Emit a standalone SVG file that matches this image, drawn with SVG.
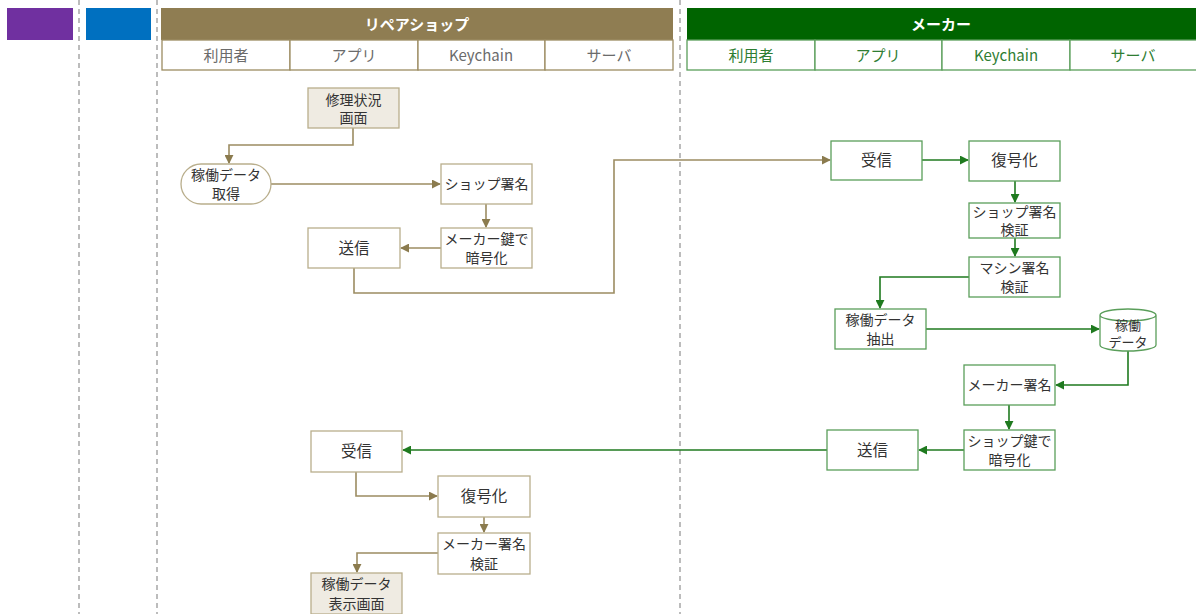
<svg xmlns="http://www.w3.org/2000/svg" width="1196" height="614" viewBox="0 0 1196 614">
<style>
text{font-family:"Noto Sans CJK JP","Noto Sans",sans-serif;}
.hd{font-size:15px;font-weight:bold;fill:#fff;text-anchor:middle;}
.sub{font-size:15px;text-anchor:middle;}
.subS{fill:#6b6b6b;}
.subM{fill:#2e7d32;}
.lbl{font-size:14px;fill:#333;text-anchor:middle;}
.big{font-size:15.5px;}
.nS{fill:#fff;stroke:#b9ae8c;stroke-width:1.3;}
.nSb{fill:#efebe2;stroke:#b9ae8c;stroke-width:1.3;}
.nM{fill:#fff;stroke:#5a9e5a;stroke-width:1.3;}
.cS{fill:none;stroke:#9c8c62;stroke-width:1.6;}
.cM{fill:none;stroke:#1f7a1f;stroke-width:1.6;}
.dash{stroke:#999;stroke-width:1.3;stroke-dasharray:5,4;}
</style>
<defs>
<marker id="aS" viewBox="0 0 10 10" refX="9" refY="5" markerWidth="9" markerHeight="9" markerUnits="userSpaceOnUse" orient="auto"><path d="M0,0 L10,5 L0,10 z" fill="#8b7b4e"/></marker>
<marker id="aM" viewBox="0 0 10 10" refX="9" refY="5" markerWidth="9" markerHeight="9" markerUnits="userSpaceOnUse" orient="auto"><path d="M0,0 L10,5 L0,10 z" fill="#1f7a1f"/></marker>
</defs>
<rect width="1196" height="614" fill="#fff"/>
<g id="lanes">
<line class="dash" x1="79" y1="0" x2="79" y2="614"/>
<line class="dash" x1="157" y1="0" x2="157" y2="614"/>
<line class="dash" x1="680" y1="0" x2="680" y2="614"/>
<rect x="7" y="8" width="66" height="32" fill="#7030a0"/>
<rect x="86" y="8" width="65" height="32" fill="#0070c0"/>
<rect x="161" y="8" width="512" height="32" fill="#8f7d52"/>
<text class="hd" x="417" y="30">リペアショップ</text>
<g fill="#fff" stroke="#9c8c62" stroke-width="1.3">
<rect x="162" y="40" width="128" height="30"/><rect x="290" y="40" width="128" height="30"/><rect x="418" y="40" width="127" height="30"/><rect x="545" y="40" width="128" height="30"/>
</g>
<text class="sub subS" x="226" y="61">利用者</text>
<text class="sub subS" x="354" y="61">アプリ</text>
<text class="sub subS" x="481" y="61">Keychain</text>
<text class="sub subS" x="609" y="61">サーバ</text>
<rect x="687" y="8" width="509" height="32" fill="#006400"/>
<text class="hd" x="941" y="30">メーカー</text>
<g fill="#fff" stroke="#5a9e5a" stroke-width="1.3">
<rect x="687" y="40" width="128" height="30"/><rect x="815" y="40" width="127" height="30"/><rect x="942" y="40" width="128" height="30"/><rect x="1070" y="40" width="128" height="30"/>
</g>
<text class="sub subM" x="751" y="61">利用者</text>
<text class="sub subM" x="878" y="61">アプリ</text>
<text class="sub subM" x="1006" y="61">Keychain</text>
<text class="sub subM" x="1133" y="61">サーバ</text>
</g>
<g id="connectors">
<path class="cS" d="M353,128 V145 H229 V163" marker-end="url(#aS)"/>
<path class="cS" d="M271,184 H440" marker-end="url(#aS)"/>
<path class="cS" d="M486,204 V227" marker-end="url(#aS)"/>
<path class="cS" d="M441,248 H401" marker-end="url(#aS)"/>
<path class="cS" d="M354,268 V293 H614 V160 H830" marker-end="url(#aS)"/>
<path class="cM" d="M922,160 H968" marker-end="url(#aM)"/>
<path class="cM" d="M1015,181 V202" marker-end="url(#aM)"/>
<path class="cM" d="M1015,238 V256" marker-end="url(#aM)"/>
<path class="cM" d="M969,277 H880 V308" marker-end="url(#aM)"/>
<path class="cM" d="M926,329 H1099" marker-end="url(#aM)"/>
<path class="cM" d="M1128,351 V385 H1056" marker-end="url(#aM)"/>
<path class="cM" d="M1009,405 V429" marker-end="url(#aM)"/>
<path class="cM" d="M964,450 H919" marker-end="url(#aM)"/>
<path class="cM" d="M827,450 H403" marker-end="url(#aM)"/>
<path class="cS" d="M356,472 V496 H437" marker-end="url(#aS)"/>
<path class="cS" d="M484,517 V532" marker-end="url(#aS)"/>
<path class="cS" d="M438,553 H357 V572" marker-end="url(#aS)"/>
</g>
<g id="n_repair_status"><rect class="nSb" x="308" y="88" width="91" height="40"/><text class="lbl" x="353.5" y="105">修理状況</text><text class="lbl" x="353.5" y="123">画面</text></g>
<g id="n_get_data"><rect class="nS" x="181" y="164" width="90" height="40" rx="20"/><text class="lbl" x="226" y="180">稼働データ</text><text class="lbl" x="226" y="199">取得</text></g>
<g id="n_shop_sign"><rect class="nS" x="441" y="164" width="91" height="40"/><text class="lbl" x="486.5" y="189">ショップ署名</text></g>
<g id="n_enc_maker"><rect class="nS" x="441" y="228" width="91" height="40"/><text class="lbl" x="486.5" y="244">メーカー鍵で</text><text class="lbl" x="486.5" y="263">暗号化</text></g>
<g id="n_send_shop"><rect class="nS" x="308" y="228" width="92" height="40"/><text class="lbl big" x="354" y="254">送信</text></g>
<g id="n_recv_maker"><rect class="nM" x="831" y="141" width="91" height="39"/><text class="lbl big" x="876.5" y="166">受信</text></g>
<g id="n_dec_maker"><rect class="nM" x="969" y="141" width="91" height="40"/><text class="lbl big" x="1014.5" y="166">復号化</text></g>
<g id="n_verify_shop"><rect class="nM" x="969" y="203" width="91" height="35"/><text class="lbl" x="1014.5" y="217">ショップ署名</text><text class="lbl" x="1014.5" y="235">検証</text></g>
<g id="n_verify_machine"><rect class="nM" x="969" y="257" width="91" height="40"/><text class="lbl" x="1014.5" y="273">マシン署名</text><text class="lbl" x="1014.5" y="292">検証</text></g>
<g id="n_extract"><rect class="nM" x="835" y="309" width="91" height="40"/><text class="lbl" x="880.5" y="325">稼働データ</text><text class="lbl" x="880.5" y="344">抽出</text></g>
<g id="n_store"><path class="nM" d="M1100,315 V345 A28,6 0 0 0 1156,345 V315 A28,6 0 0 0 1100,315 A28,6 0 0 0 1156,315"/><text class="lbl" style="font-size:13px" x="1128" y="330">稼働</text><text class="lbl" style="font-size:13px" x="1128" y="347">データ</text></g>
<g id="n_maker_sign"><rect class="nM" x="964" y="365" width="91" height="40"/><text class="lbl" x="1009.5" y="390">メーカー署名</text></g>
<g id="n_enc_shop"><rect class="nM" x="964" y="430" width="91" height="40"/><text class="lbl" x="1009.5" y="446">ショップ鍵で</text><text class="lbl" x="1009.5" y="465">暗号化</text></g>
<g id="n_send_maker"><rect class="nM" x="827" y="430" width="91" height="40"/><text class="lbl big" x="872.5" y="456">送信</text></g>
<g id="n_recv_shop"><rect class="nS" x="311" y="431" width="91" height="41"/><text class="lbl big" x="356.5" y="457">受信</text></g>
<g id="n_dec_shop"><rect class="nS" x="438" y="476" width="92" height="41"/><text class="lbl big" x="484" y="502">復号化</text></g>
<g id="n_verify_maker"><rect class="nS" x="438" y="533" width="92" height="41"/><text class="lbl" x="484" y="549">メーカー署名</text><text class="lbl" x="484" y="569">検証</text></g>
<g id="n_display"><rect class="nSb" x="311" y="573" width="91" height="41"/><text class="lbl" x="356.5" y="589">稼働データ</text><text class="lbl" x="356.5" y="609">表示画面</text></g>
</svg>
